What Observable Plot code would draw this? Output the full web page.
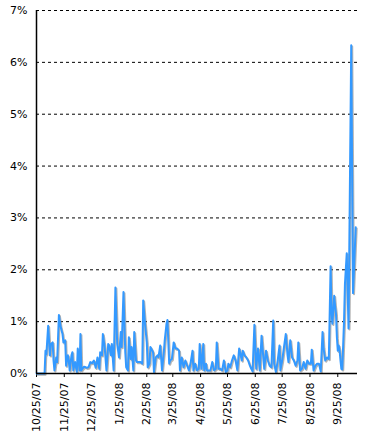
<!DOCTYPE html>
<html>
<head>
<meta charset="utf-8">
<script src="https://cdn.jsdelivr.net/npm/d3@7"></script>
<script src="https://cdn.jsdelivr.net/npm/@observablehq/plot@0.6"></script>
<style>
  html, body { margin: 0; padding: 0; background: #fff; }
  #chart { width: 370px; height: 440px; }
</style>
</head>
<body>
<div id="chart"></div>
<script>
// Series: days after 10/25/07, and value in percent
const startDate = "2007-10-25";
const endDate = "2008-10-17";
const dayOffsets = [
  0, 9, 10, 11, 13, 15, 16, 18, 19, 20, 22, 23, 25, 27, 29, 30, 32, 33, 35, 36,
  37, 39, 40, 41, 43, 45, 46, 48, 49, 50, 51, 53, 55, 56, 58, 60, 62, 64, 66, 68,
  70, 71, 73, 74, 76, 78, 80, 81, 83, 84, 86, 88, 90, 92, 94, 95, 97, 99, 100, 102,
  103, 105, 106, 108, 109, 111, 112, 114, 116, 118, 119, 121, 123, 124, 126, 127, 128, 130, 131, 133,
  135, 136, 138, 140, 142, 143, 145, 146, 148, 149, 151, 153, 155, 157, 159, 160, 162, 164, 166, 168,
  170, 172, 174, 175, 177, 179, 181, 182, 184, 186, 187, 189, 190, 192, 194, 196, 198, 200, 201, 203,
  205, 207, 209, 211, 213, 214, 216, 218, 220, 222, 224, 226, 227, 229, 230, 232, 234, 236, 238, 239,
  241, 243, 245, 247, 249, 251, 252, 254, 256, 258, 260, 262, 264, 265, 267, 269, 271, 272, 274, 276,
  278, 280, 281, 283, 285, 287, 289, 291, 292, 294, 296, 298, 300, 302, 304, 306, 307, 309, 311, 313,
  315, 317, 319, 320, 322, 324, 326, 328, 329, 330, 332, 333, 334, 335, 336, 337, 338, 339, 340, 341,
  342, 343, 344, 346, 348, 351, 353, 356
];
const shareValues = [
  0, 0, 0.44, 0.37, 0.92, 0.35, 0.57, 0.60, 0.25, 0.06, 0.31, 0.22, 1.13, 0.89, 0.76, 0.60, 0.64, 0.15, 0.35, 0.25,
  0.06, 0.35, 0.41, 0.06, 0.22, 0.03, 0.48, 0.06, 0.76, 0.06, 0.09, 0.13, 0.12, 0.11, 0.12, 0.22, 0.20, 0.25, 0.11, 0.31,
  0.09, 0.41, 0.35, 0.76, 0.51, 0.06, 0.57, 0.54, 0.35, 0.57, 0.06, 1.66, 0.57, 0.31, 0.80, 0.51, 1.57, 0.41, 0.12, 0.06,
  0.70, 0.28, 0.51, 0.06, 0.80, 0.25, 0.22, 0.22, 0.22, 0.19, 1.41, 0.96, 0.60, 0.12, 0.19, 0.51, 0.48, 0.41, 0.03, 0.31,
  0.35, 0.31, 0.54, 0.06, 0.41, 0.64, 0.96, 1.03, 0.19, 0.25, 0.28, 0.60, 0.48, 0.48, 0.44, 0.06, 0.31, 0.12, 0.25, 0.15,
  0.06, 0.22, 0.44, 0.06, 0.19, 0.06, 0.09, 0.57, 0.09, 0.57, 0.06, 0.19, 0.06, 0.06, 0.06, 0.22, 0.06, 0.09, 0.60, 0.09,
  0.09, 0.06, 0.25, 0.03, 0.06, 0.19, 0.12, 0.25, 0.35, 0.25, 0.06, 0.48, 0.41, 0.25, 0.44, 0.35, 0.31, 0.25, 0.15, 0.11,
  0.04, 0.94, 0.09, 0.48, 0.06, 0.73, 0.51, 0.09, 0.44, 0.25, 0.15, 0.12, 1.02, 0.19, 0.03, 0.25, 0.54, 0.06, 0.25, 0.51,
  0.76, 0.35, 0.22, 0.64, 0.31, 0.25, 0.15, 0.25, 0.60, 0.06, 0.09, 0.22, 0.09, 0.25, 0.19, 0.19, 0.46, 0.06, 0.15, 0.19,
  0.19, 0.04, 0.80, 0.51, 0.25, 0.31, 0.28, 2.07, 1.20, 0.96, 1.50, 1.30, 1.15, 0.70, 0.44, 0.54, 0.45, 0.25, 0.09, 0.08,
  0.55, 1.02, 1.73, 2.32, 0.87, 6.33, 1.55, 2.82
];
const xTickLabels = ["10/25/07", "11/25/07", "12/25/07", "1/25/08", "2/25/08", "3/25/08",
  "4/25/08", "5/25/08", "6/25/08", "7/25/08", "8/25/08", "9/25/08"];
const yTicks = [0, 1, 2, 3, 4, 5, 6, 7];

const parseMDY = d3.utcParse("%m/%d/%y");
const base = d3.utcParse("%Y-%m-%d")(startDate);
const data = dayOffsets.map((d, i) => ({ date: d3.utcDay.offset(base, d), value: shareValues[i] }));
const xTicks = xTickLabels.map(parseMDY);
const fmt = d3.utcFormat("%-m/%-d/%y");

const chart = Plot.plot({
  width: 370,
  height: 440,
  marginLeft: 36,
  marginRight: 13,
  marginTop: 10,
  marginBottom: 67,
  style: { fontFamily: "'DejaVu Sans', Verdana, sans-serif", fontSize: "11px", background: "#fff", color: "#000" },
  x: { type: "utc", domain: [base, d3.utcParse("%Y-%m-%d")(endDate)] },
  y: { domain: [0, 7] },
  marks: [
    Plot.gridY(yTicks.filter(t => t > 0), { stroke: "#000", strokeOpacity: 1, strokeWidth: 1, strokeDasharray: "3,3" }),
    Plot.axisY(yTicks, { tickSize: 0, tickPadding: 9, tickFormat: d => d + "%", label: null }),
    Plot.axisX(xTicks, { tickSize: 4, tickPadding: 5, tickRotate: -90, tickFormat: fmt, label: null }),
    Plot.lineY(data, { x: "date", y: "value", stroke: "#777", strokeOpacity: 0.55, strokeWidth: 2, dx: 1, dy: 1.2 }),
    Plot.lineY(data, { x: "date", y: "value", stroke: "#3399ff", strokeWidth: 2, strokeLinejoin: "round" }),
    Plot.ruleY([0], { stroke: "#000", strokeWidth: 1.5 }),
    Plot.ruleX([base], { stroke: "#000", strokeWidth: 1.5 })
  ]
});
document.getElementById("chart").appendChild(chart);
</script>
</body>
</html>
